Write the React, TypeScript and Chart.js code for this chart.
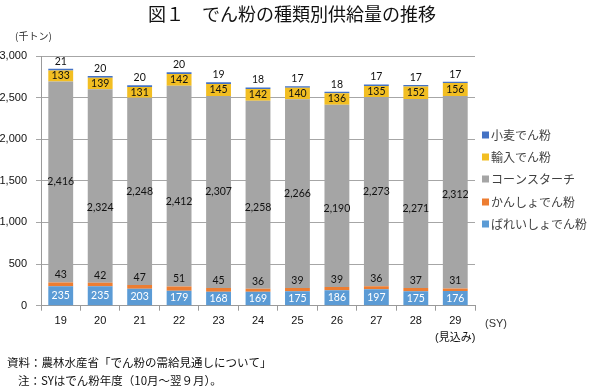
import React, { useEffect, useRef } from "react";
import { Chart, registerables } from "chart.js";

Chart.register(...registerables);

// ---- data ----
const categories: (string | string[])[] = ["19", "20", "21", "22", "23", "24", "25", "26", "27", "28", ["29", "(見込み)"]];
const potatoStarch = [235, 235, 203, 179, 168, 169, 175, 186, 197, 175, 176];
const sweetPotatoStarch = [43, 42, 47, 51, 45, 36, 39, 39, 36, 37, 31];
const cornStarch = [2416, 2324, 2248, 2412, 2307, 2258, 2266, 2190, 2273, 2271, 2312];
const importedStarch = [133, 139, 131, 142, 145, 142, 140, 136, 135, 152, 156];
const wheatStarch = [21, 20, 20, 20, 19, 18, 17, 18, 17, 17, 17];
const seriesNames = ["ばれいしょでん粉", "かんしょでん粉", "コーンスターチ", "輸入でん粉", "小麦でん粉"];
const yMin = 0;
const yMax = 3000;
const yStep = 500;

const titleText = "図１　でん粉の種類別供給量の推移";
const unitText = "(千トン)";
const axisUnitText = "(SY)";
const sourceText = "資料：農林水産省「でん粉の需給見通しについて」";
const noteText = "注：SYはでん粉年度（10月～翌９月）。";

// ---- styles ----
const colors = ["#5B9BD5", "#ED7D31", "#A5A5A5", "#F2BE22", "#4472C4"];
const cornLabelShift = [0, 22, 0, 15, 0, 13, 0, 13, 0, 15, 2];
const CJK = '"Noto Sans CJK JP", sans-serif';
const LATIN = '"Liberation Sans", "Noto Sans CJK JP", sans-serif';

const textPlugin = {
  id: "customText",
  afterDatasetsDraw(chart: any) {
    const ctx = chart.ctx as CanvasRenderingContext2D;
    ctx.save();
    ctx.textAlign = "center";
    ctx.textBaseline = "middle";
    ctx.font = '10.5px Lato, "Liberation Sans", sans-serif';
    chart.data.datasets.forEach((ds: any, di: number) => {
      const meta = chart.getDatasetMeta(di);
      meta.data.forEach((el: any, i: number) => {
        const v = ds.data[i] as number;
        const { x, y, base } = el.getProps(["x", "y", "base"], true);
        let ty = (y + base) / 2;
        let color = "#111";
        if (di === 0) color = "#ffffff";
        else if (di === 1 || di === 4) ty = y - 7.5;
        else if (di === 2) ty = (y + base) / 2 + cornLabelShift[i];
        ctx.fillStyle = color;
        ctx.fillText(v.toLocaleString("en-US"), x, ty);
      });
    });
    ctx.restore();
  },
  afterDraw(chart: any) {
    const ctx = chart.ctx as CanvasRenderingContext2D;
    ctx.save();
    // title
    ctx.fillStyle = "#111";
    ctx.textAlign = "center";
    ctx.textBaseline = "middle";
    ctx.font = `400 18px ${CJK}`;
    ctx.fillText(titleText, 292, 14);
    // unit
    ctx.font = `10px ${CJK}`;
    ctx.textAlign = "left";
    ctx.fillStyle = "#333";
    ctx.fillText(unitText, 15, 36);
    // (SY)
    ctx.font = `11px ${LATIN}`;
    ctx.textAlign = "center";
    ctx.fillText(axisUnitText, 496, 324);
    // notes
    ctx.fillStyle = "#111";
    ctx.textAlign = "left";
    ctx.font = `11.5px ${CJK}`;
    ctx.fillText(sourceText, 7, 363);
    ctx.fillText(noteText, 18, 381);
    // legend (reverse order)
    const legendY = [224, 202, 179, 157, 135];
    ctx.font = `12px ${CJK}`;
    chart.data.datasets.forEach((ds: any, di: number) => {
      const yy = legendY[di];
      ctx.fillStyle = ds.backgroundColor;
      ctx.fillRect(482, yy - 3.5, 7, 7);
      ctx.fillStyle = "#404040";
      ctx.fillText(ds.label, 491, yy);
    });
    ctx.restore();
  },
};

export default function App() {
  const ref = useRef<HTMLCanvasElement | null>(null);
  useEffect(() => {
    if (!ref.current) return;
    const data = [potatoStarch, sweetPotatoStarch, cornStarch, importedStarch, wheatStarch];
    const chart = new Chart(ref.current, {
      type: "bar",
      data: {
        labels: categories as any,
        datasets: data.map((d, i) => ({
          label: seriesNames[i],
          data: d,
          backgroundColor: colors[i],
          borderWidth: 0,
          barPercentage: 0.63,
          categoryPercentage: 1,
        })),
      },
      options: {
        animation: false,
        responsive: false,
        maintainAspectRatio: false,
        layout: { padding: { top: 56, right: 114, left: 0, bottom: 0 } },
        plugins: { legend: { display: false }, tooltip: { enabled: false }, title: { display: false } },
        scales: {
          x: {
            stacked: true,
            afterFit: (s: any) => {
              s.height = 82.3;
            },
            grid: { display: true, drawOnChartArea: false, drawTicks: true, tickLength: 5, color: "#9a9a9a", offset: true },
            border: { display: true, color: "#9a9a9a" },
            ticks: { color: "#111", padding: 2.5, font: { family: LATIN, size: 11, lineHeight: 1.5 }, maxRotation: 0, autoSkip: false },
          },
          y: {
            stacked: true,
            min: yMin,
            max: yMax,
            afterFit: (s: any) => {
              s.width = 41;
            },
            grid: { color: "#a6a6a6", tickLength: 5 },
            border: { display: true, color: "#9a9a9a" },
            ticks: {
              stepSize: yStep,
              color: "#111",
              padding: 9,
              font: { family: LATIN, size: 11 },
              callback: (v: any) => Number(v).toLocaleString("en-US"),
            },
          },
        },
      },
      plugins: [textPlugin],
    });
    return () => chart.destroy();
  }, []);
  return (
    <div style={{ position: "absolute", left: 0, top: 0, width: 589, height: 388, background: "#fff" }}>
      <canvas ref={ref} width={589} height={388} style={{ width: 589, height: 388, display: "block" }} />
    </div>
  );
}
